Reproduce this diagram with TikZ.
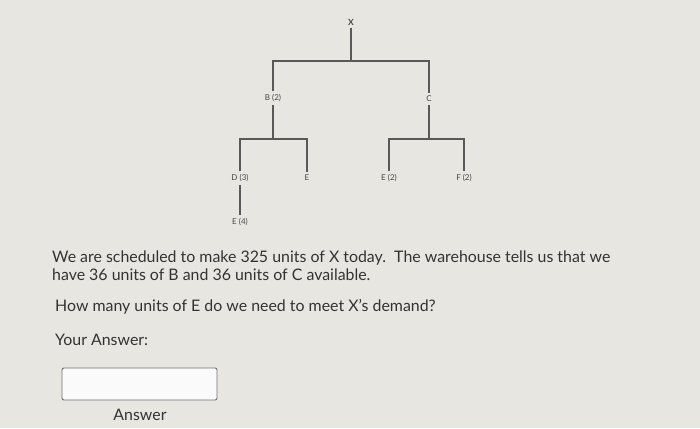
\documentclass[tikz,border=0pt]{standalone}
\usepackage{fontspec}
\setmainfont{Lato}
\begin{document}
\begin{tikzpicture}[x=1pt,y=-1pt,
  lbl/.style={font=\fontsize{8}{9}\selectfont, text=black!72, inner xsep=1pt, inner ysep=3pt},
  tline/.style={draw=black!65, line width=1.3pt},
  body/.style={font=\fontsize{15.9}{19}\selectfont, text=black!80, anchor=west, inner sep=0pt},
  ansbox/.style={draw=black!55, line width=0.9pt, rounded corners=2pt, fill=black!2}]
\fill[fill={rgb,255:red,232;green,230;blue,225}] (0,0) rectangle (700,428);
\useasboundingbox (0,0) rectangle (700,428);
% tree nodes
\node[lbl, font=\bfseries\fontsize{8.5}{9}\selectfont] (X) at (351,22) {X};
\node[lbl] (B) at (273,98) {B (2)};
\node[lbl] (C) at (429,99) {C};
\node[lbl] (D) at (240,178) {D (3)};
\node[lbl] (E1) at (307,178) {E};
\node[lbl] (E2) at (389,178) {E (2)};
\node[lbl] (F) at (464,178) {F (2)};
\node[lbl] (E4) at (240,222) {E (4)};
\coordinate (xj) at (351,61);
\coordinate (bj) at (273,139);
\coordinate (cj) at (429,139);
\draw[tline] (X.south) -- (xj);
\draw[tline] (B.north) |- (xj) -| (C.north);
\draw[tline] (B.south) -- (bj);
\draw[tline] (D.north) |- (bj) -| (E1.north);
\draw[tline] (C.south) -- (cj);
\draw[tline] (E2.north) |- (cj) -| (F.north);
\draw[tline] (D.south) -- (E4.north);
% question text
\node[body] (t1) at (52,258) {We are scheduled to make 325 units of X today.\ \ The warehouse tells us that we};
\node[body] (t2) at (52,275) {have 36 units of B and 36 units of C available.};
\node[body] (t3) at (55,307) {How many units of E do we need to meet X's demand?};
\node[body] (t4) at (55,340) {Your Answer:};
\node[ansbox, minimum width=155pt, minimum height=32pt] (box) at (139.5,384) {};
\node[body, anchor=center] (ans) at (140,415) {Answer};
\end{tikzpicture}
\end{document}
